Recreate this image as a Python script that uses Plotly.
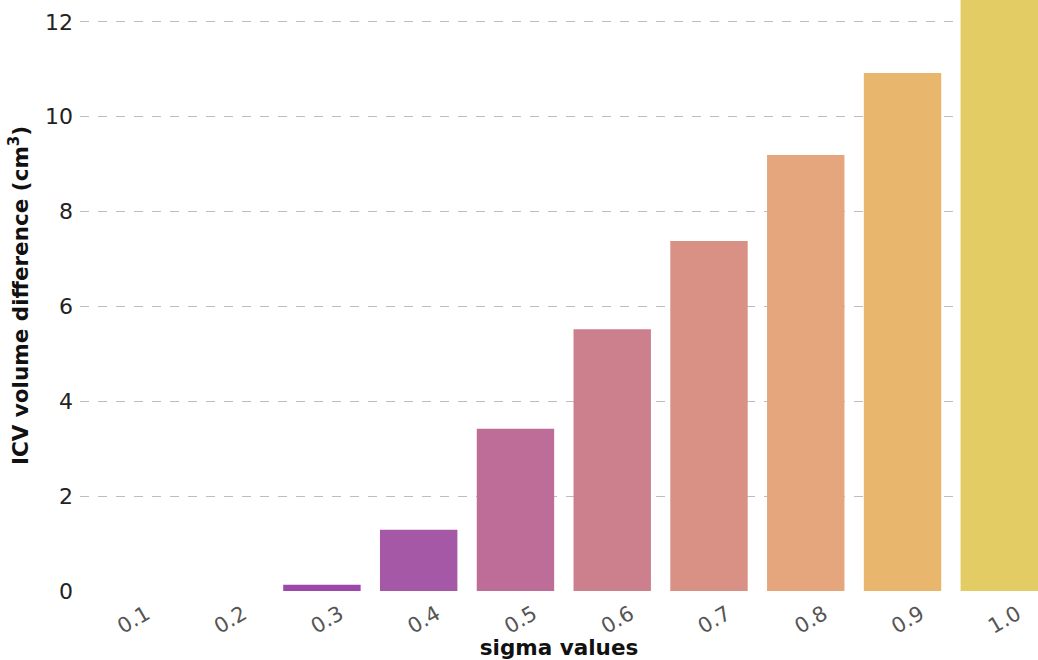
import plotly.graph_objects as go

# sigma sweep and resulting ICV volume difference
sigma_labels = ["0.1", "0.2", "0.3", "0.4", "0.5", "0.6", "0.7", "0.8", "0.9", "1.0"]
icv_diff = [0.0, 0.0, 0.13, 1.29, 3.42, 5.52, 7.38, 9.19, 10.92, 12.8]
bar_colors = ["#8a3aa6", "#943fa9", "#9c47aa", "#a558a5", "#be6d98",
              "#cc7f8c", "#da9185", "#e5a57d", "#e8b76d", "#e3cc63"]
y_ticks = [0, 2, 4, 6, 8, 10, 12]

fig = go.Figure(
    go.Bar(
        x=list(range(len(sigma_labels))),
        y=icv_diff,
        marker=dict(color=bar_colors, line=dict(width=0)),
        width=0.8,
    )
)

fig.update_layout(
    width=1038,
    height=660,
    margin=dict(l=80, r=0, t=0, b=69),
    paper_bgcolor="white",
    plot_bgcolor="white",
    font=dict(family="DejaVu Sans", color="#222222"),
    showlegend=False,
)

fig.update_xaxes(
    tickmode="array",
    tickvals=list(range(len(sigma_labels))),
    ticktext=sigma_labels,
    tickangle=-30,
    tickfont=dict(size=21, color="#555555"),
    ticklabelshift=18,
    ticklabelstandoff=6,
    range=[-0.5, 9.4],
    showgrid=False,
    showline=False,
    zeroline=False,
    ticks="",
    title=dict(text="<b>sigma values</b>", font=dict(size=21.5, color="#111111"), standoff=2),
)

fig.update_yaxes(
    range=[0, 12.46],
    tickmode="array",
    tickvals=y_ticks,
    tickfont=dict(size=22, color="#222222"),
    showgrid=True,
    gridcolor="#bdbdbd",
    griddash="dash",
    gridwidth=1,
    showline=False,
    zeroline=False,
    ticks="",
    ticklabelstandoff=6,
    title=dict(text="<b>ICV volume difference (cm<sup>3</sup>)</b>", font=dict(size=21.5, color="#111111"), standoff=10),
)

fig.write_html("out.html")
